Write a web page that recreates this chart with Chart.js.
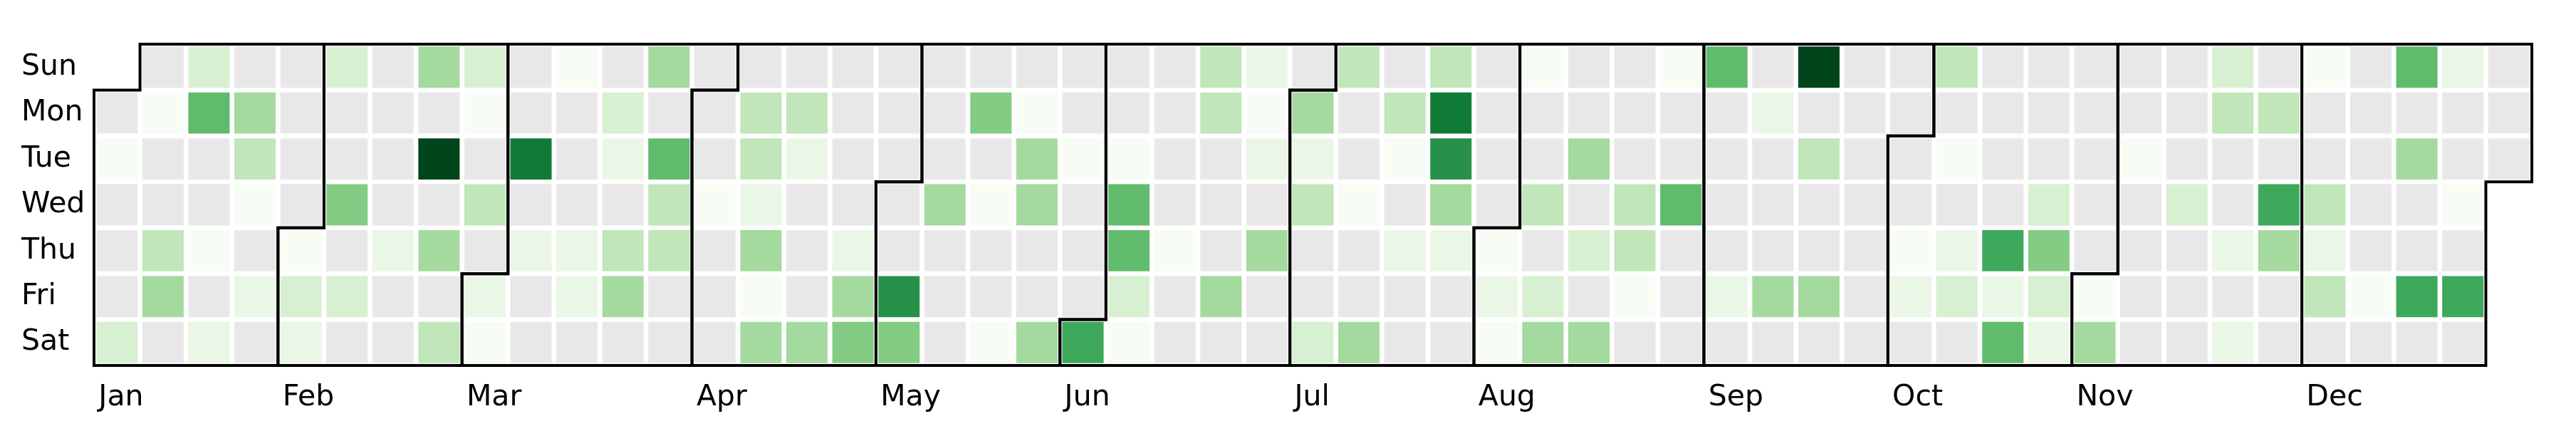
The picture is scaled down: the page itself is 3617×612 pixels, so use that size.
<!DOCTYPE html>
<html>
<head>
<meta charset="utf-8">
<script src="https://cdn.jsdelivr.net/npm/chart.js@4/dist/chart.umd.min.js"></script>
<style>
  body { margin: 0; background: #fff; }
</style>
</head>
<body>
<canvas id="calChart" width="3617" height="612"></canvas>
<script>
const year = 2024;
const dayNames = ["Sun", "Mon", "Tue", "Wed", "Thu", "Fri", "Sat"];
const monthNames = ["Jan", "Feb", "Mar", "Apr", "May", "Jun", "Jul", "Aug", "Sep", "Oct", "Nov", "Dec"];

// daily values, 0 = no value (gray cell)
const jan = [0,1,0,0,0,3, 0,1,0,0,4,5,0, 3,7,0,0,1,0,2, 0,5,4,1,0,2,0, 0,0,0,0];
const feb = [1,3,2, 3,0,0,6,0,3,0, 0,0,0,0,2,0,0, 5,0,12,0,5,0,4, 3,1,0,4,0];
const mar = [2,1, 0,0,10,0,2,0,0, 1,0,0,0,2,2,0, 0,3,2,0,4,5,0, 5,0,7,4,4,0,0, 0];
const apr = [0,0,1,0,0,0, 0,4,4,2,5,1,5, 0,4,2,0,0,0,5, 0,0,0,0,2,5,6, 0,0,0];
const may = [0,0,9,6, 0,0,0,5,0,0,0, 0,6,0,1,0,0,1, 0,1,5,5,0,0,5, 0,0,1,0,0,0];
const jun = [8, 0,0,1,7,7,3,1, 0,0,0,0,1,0,0, 4,4,0,0,0,5,0, 2,1,2,0,5,0,0, 0];
const jul = [5,2,4,0,0,3, 4,0,0,1,0,0,5, 0,4,1,0,2,0,0, 4,10,9,5,2,0,0, 0,0,0,0];
const aug = [1,2,1, 1,0,0,4,0,3,5, 0,0,5,0,3,0,5, 0,0,0,4,4,1,0, 1,0,0,7,0,0,0];
const sep = [7,0,0,0,0,2,0, 0,2,0,0,0,5,0, 12,0,4,0,0,5,0, 0,0,0,0,0,0,0, 0,0];
const oct = [0,0,1,2,0, 4,0,1,0,2,3,0, 0,0,0,0,8,2,7, 0,0,0,3,6,3,2, 0,0,0,0,0];
const nov = [1,5, 0,0,1,0,0,0,0, 0,0,0,3,0,0,0, 3,4,0,0,2,0,2, 0,4,0,8,5,0,0];
const dec = [1,0,0,4,2,4,0, 0,0,0,0,0,1,0, 7,0,5,0,0,8,0, 2,0,0,1,0,8,0, 0,0,0];

const months = [jan, feb, mar, apr, may, jun, jul, aug, sep, oct, nov, dec];

// Greens colormap
const greens = ["#f7fcf5", "#e5f5e0", "#c7e9c0", "#a1d99b", "#74c476", "#41ab5d", "#238b45", "#006d2c", "#00441b"];
function hexToRgb(h) {
  return [1, 3, 5].map((i) => parseInt(h.substr(i, 2), 16));
}
function greensAt(t) {
  t = Math.max(0, Math.min(1, t));
  const pos = t * (greens.length - 1);
  const i = Math.min(Math.floor(pos), greens.length - 2);
  const f = pos - i;
  const a = hexToRgb(greens[i]);
  const b = hexToRgb(greens[i + 1]);
  const c = a.map((v, k) => Math.round(v + (b[k] - v) * f));
  return `rgb(${c[0]},${c[1]},${c[2]})`;
}

const allValues = months.flat().filter((v) => v > 0);
const vMin = Math.min(...allValues);
const vMax = Math.max(...allValues);

// place each day in the week/weekday grid
const jan1Dow = new Date(year, 0, 1).getDay();
function cellOf(m, day) {
  let doy = day;
  for (let i = 0; i < m; i++) doy += months[i].length;
  const n = doy - 1 + jan1Dow;
  return { w: Math.floor(n / 7), d: n % 7 };
}

const lastCell = cellOf(11, dec.length);
const weeks = [];
for (let w = 0; w <= lastCell.w; w++) weeks.push(w);

const grid = dayNames.map(() => weeks.map(() => undefined));
months.forEach((vals, m) => {
  vals.forEach((v, k) => {
    const c = cellOf(m, k + 1);
    grid[c.d][c.w] = v;
  });
});

const monthAtWeek = {};
months.forEach((vals, m) => {
  monthAtWeek[cellOf(m, 1).w] = monthNames[m];
});

const datasets = dayNames.map((name, d) => ({
  label: name,
  data: weeks.map((w) => (grid[d][w] === undefined ? null : [d, d + 1])),
  backgroundColor: weeks.map((w) => {
    const v = grid[d][w];
    if (!v) return "#e8e8e8";
    return greensAt((v - vMin) / (vMax - vMin));
  }),
  borderColor: "#ffffff",
  borderWidth: 3.6,
  borderSkipped: false,
  grouped: false,
  barPercentage: 1,
  categoryPercentage: 1,
}));

// black outline around every month
const monthOutline = {
  id: "monthOutline",
  afterDatasetsDraw(chart) {
    const { ctx, scales } = chart;
    const x = scales.x;
    const y = scales.y;
    ctx.save();
    ctx.strokeStyle = "#000";
    ctx.lineWidth = 4;
    ctx.lineJoin = "miter";
    months.forEach((vals, m) => {
      const a = cellOf(m, 1);
      const b = cellOf(m, vals.length);
      const pts = [
        [a.w, a.d], [a.w + 1, a.d], [a.w + 1, 0], [b.w + 1, 0],
        [b.w + 1, b.d + 1], [b.w, b.d + 1], [b.w, 7], [a.w, 7],
      ];
      ctx.beginPath();
      pts.forEach(([pw, pd], k) => {
        const px = x.getPixelForValue(pw - 0.5);
        const py = y.getPixelForValue(pd);
        if (k === 0) ctx.moveTo(px, py);
        else ctx.lineTo(px, py);
      });
      ctx.closePath();
      ctx.stroke();
    });
    ctx.restore();
  },
};

new Chart(document.getElementById("calChart"), {
  type: "bar",
  data: { labels: weeks, datasets: datasets },
  plugins: [monthOutline],
  options: {
    responsive: false,
    animation: false,
    layout: { padding: { left: 30, right: 62, top: 62, bottom: 0 } },
    plugins: { legend: { display: false }, tooltip: { enabled: false } },
    scales: {
      x: {
        type: "category",
        grid: { display: false, drawTicks: false },
        border: { display: false },
        afterFit: (scale) => { scale.height = 99; },
        ticks: {
          autoSkip: false,
          maxRotation: 0,
          minRotation: 0,
          align: "start",
          labelOffset: -26,
          padding: 21,
          color: "#000",
          font: { family: "DejaVu Sans", size: 41 },
          callback: (value, index) => monthAtWeek[index] || "",
        },
      },
      y: {
        type: "linear",
        min: 0,
        max: 7,
        reverse: true,
        grid: { display: false, drawTicks: false },
        border: { display: false },
        afterFit: (scale) => { scale.width = 102; },
        afterBuildTicks: (scale) => {
          scale.ticks = dayNames.map((n, i) => ({ value: i + 0.5 }));
        },
        ticks: {
          crossAlign: "far",
          color: "#000",
          font: { family: "DejaVu Sans", size: 41 },
          callback: (value) => dayNames[Math.floor(value)],
        },
      },
    },
  },
});
</script>
</body>
</html>
